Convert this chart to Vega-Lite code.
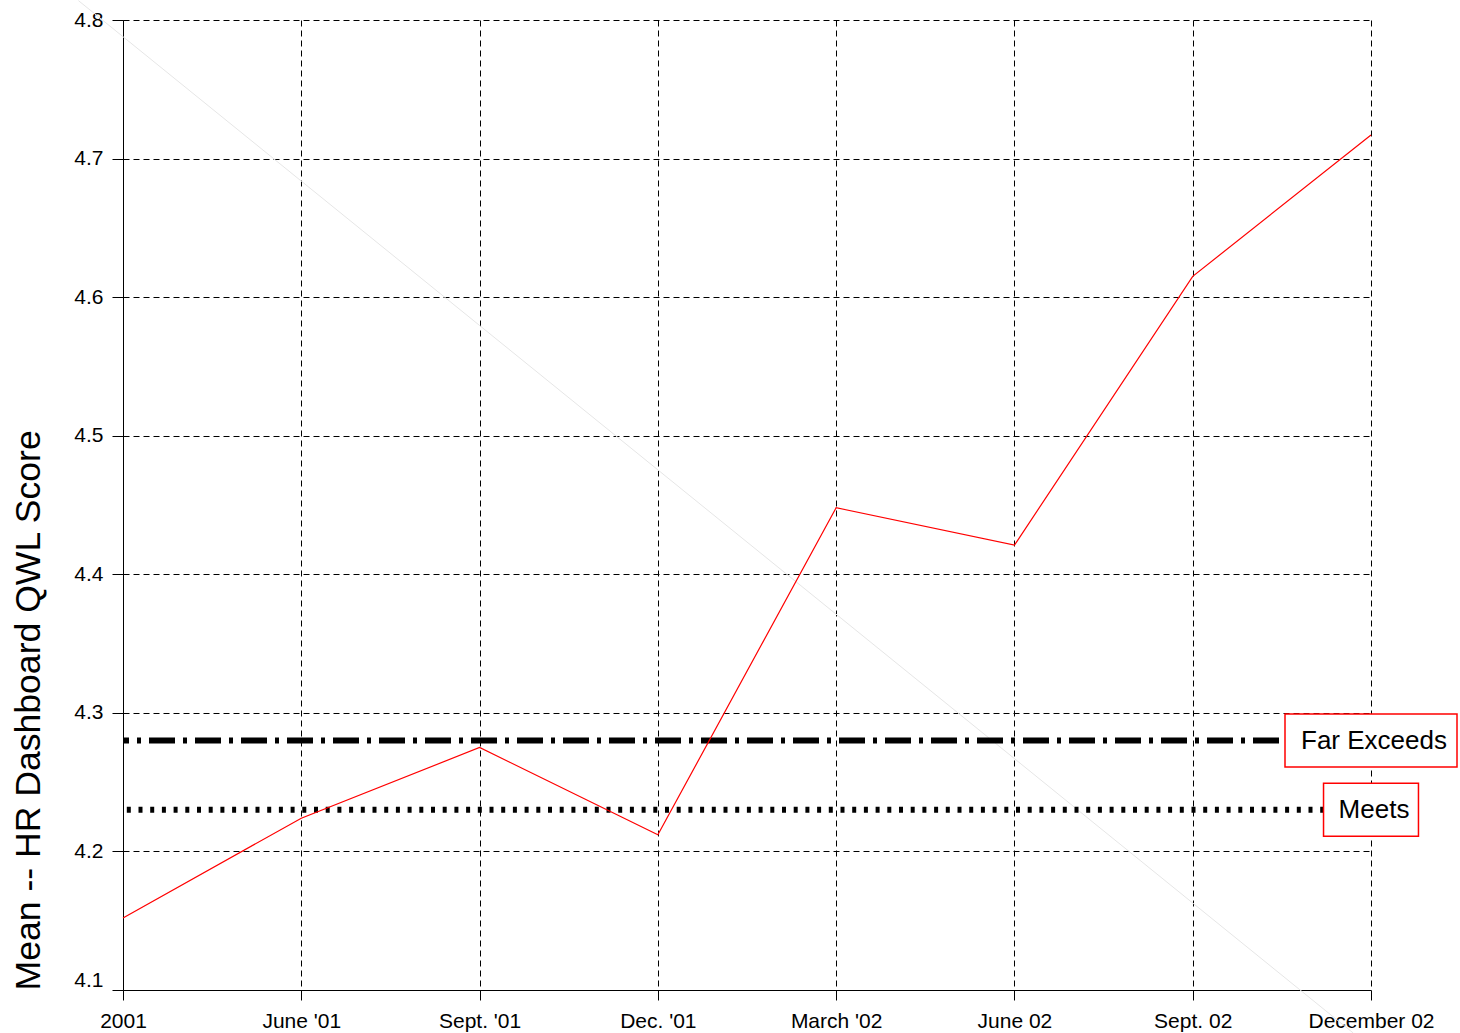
{
  "$schema": "https://vega.github.io/schema/vega-lite/v6.json",
  "width": 1248,
  "height": 970,
  "autosize": {"type": "none"},
  "padding": {"left": 123, "top": 20, "right": 89, "bottom": 43},
  "background": "white",
  "config": {
    "view": {"stroke": null},
    "font": "Liberation Sans",
    "axis": {
      "labelFont": "Liberation Sans",
      "titleFont": "Liberation Sans",
      "labelColor": "black",
      "titleColor": "black",
      "domainColor": "black",
      "tickColor": "black",
      "gridColor": "black",
      "gridDash": [6, 4],
      "gridWidth": 1,
      "gridOpacity": 1,
      "labelFontSize": 21,
      "titleFontWeight": "normal"
    }
  },
  "datasets": {
    "scores": [
      {"i": 0, "period": "2001", "score": 4.152},
      {"i": 1, "period": "June '01", "score": 4.224},
      {"i": 2, "period": "Sept. '01", "score": 4.275},
      {"i": 3, "period": "Dec. '01", "score": 4.212},
      {"i": 4, "period": "March '02", "score": 4.448},
      {"i": 5, "period": "June 02", "score": 4.421},
      {"i": 6, "period": "Sept. 02", "score": 4.615},
      {"i": 7, "period": "December 02", "score": 4.717}
    ],
    "faint": [
      {"i": -0.25, "score": 4.814},
      {"i": 6.9, "score": 4.069}
    ],
    "refs": [
      {"i": 7, "label": "Far Exceeds", "score": 4.28},
      {"i": 7, "label": "Meets", "score": 4.23}
    ]
  },
  "layer": [
    {
      "data": {"name": "faint"},
      "mark": {"type": "line", "color": "#e6e6e6", "strokeWidth": 1},
      "encoding": {
        "x": {
          "field": "i",
          "type": "quantitative",
          "scale": {"domain": [0, 7], "nice": false, "zero": false},
          "axis": {
            "values": [0, 1, 2, 3, 4, 5, 6, 7],
            "labelExpr": "[\"2001\",\"June '01\",\"Sept. '01\",\"Dec. '01\",\"March '02\",\"June 02\",\"Sept. 02\",\"December 02\"][datum.value]",
            "title": null,
            "tickSize": 10,
            "labelPadding": 10,
            "labelFlush": false,
            "labelOverlap": false,
            "domainWidth": 1
          }
        },
        "y": {
          "field": "score",
          "type": "quantitative",
          "scale": {"domain": [4.1, 4.8], "nice": false, "zero": false},
          "axis": {
            "values": [4.1, 4.2, 4.3, 4.4, 4.5, 4.6, 4.7, 4.8],
            "format": ".1f",
            "tickSize": 11,
            "labelPadding": 9,
            "labelFlush": false,
            "labelOverlap": false,
            "labelBaseline": {"condition": {"test": "datum.value == 4.1", "value": "bottom"}, "value": "middle"},
            "title": "Mean -- HR Dashboard QWL Score",
            "titleFontSize": 35.6,
            "titleAngle": 270,
            "titleAlign": "left",
            "titleBaseline": "alphabetic",
            "titleX": -84,
            "titleY": 970
          }
        }
      }
    },
    {
      "data": {"name": "refs"},
      "transform": [{"filter": "datum.label == 'Far Exceeds'"}],
      "mark": {"type": "rule", "color": "black", "strokeWidth": 6, "strokeDash": [26, 8, 4, 8], "strokeCap": "butt"},
      "encoding": {"y": {"field": "score", "type": "quantitative"}}
    },
    {
      "data": {"name": "refs"},
      "transform": [{"filter": "datum.label == 'Meets'"}],
      "mark": {"type": "rule", "color": "black", "strokeWidth": 6, "strokeDash": [4, 7.7], "strokeCap": "butt"},
      "encoding": {"y": {"field": "score", "type": "quantitative"}}
    },
    {
      "data": {"name": "scores"},
      "mark": {"type": "line", "color": "#ff0000", "strokeWidth": 1.2},
      "encoding": {
        "x": {"field": "i", "type": "quantitative"},
        "y": {"field": "score", "type": "quantitative"}
      }
    },
    {
      "data": {"name": "refs"},
      "mark": {"type": "point", "filled": true, "fill": "white", "stroke": "#ff0000", "strokeWidth": 1.5, "opacity": 1, "fillOpacity": 1, "strokeOpacity": 1, "size": 29584},
      "encoding": {
        "x": {"field": "i", "type": "quantitative"},
        "y": {"field": "score", "type": "quantitative"},
        "shape": {
          "field": "label",
          "type": "nominal",
          "scale": {
            "domain": ["Far Exceeds", "Meets"],
            "range": ["M-1,-0.308H1V0.308H-1Z", "M-0.552,-0.308H0.552V0.308H-0.552Z"]
          },
          "legend": null
        }
      }
    },
    {
      "data": {"name": "refs"},
      "mark": {"type": "text", "fontSize": 26, "color": "black", "align": "center", "baseline": "middle", "dx": 3, "font": "Liberation Sans"},
      "encoding": {
        "x": {"field": "i", "type": "quantitative"},
        "y": {"field": "score", "type": "quantitative"},
        "text": {"field": "label", "type": "nominal"}
      }
    }
  ]
}
